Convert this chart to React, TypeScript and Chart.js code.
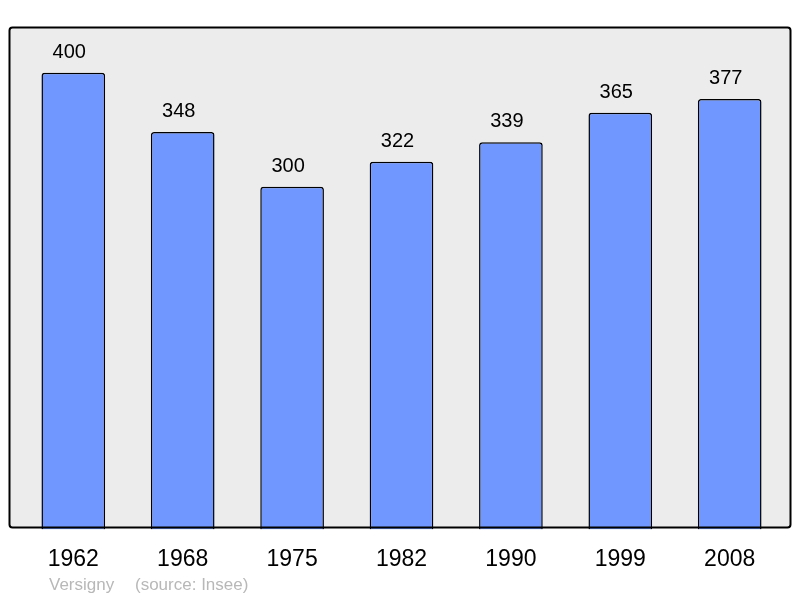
import React, { useEffect, useRef } from "react";
import { Chart, registerables } from "chart.js";

Chart.register(...registerables);

const years = ["1962", "1968", "1975", "1982", "1990", "1999", "2008"];
const population = [400, 348, 300, 322, 339, 365, 377];
const townName = "Versigny";
const sourceText = "(source: Insee)";

const FONT = "'Liberation Sans', Arial, sans-serif";

const boxPlugin = {
  id: "boxPlugin",
  beforeDatasetsDraw(chart: any) {
    const ctx = chart.ctx;
    ctx.save();
    ctx.beginPath();
    (ctx as any).roundRect(9.5, 27.5, 781, 500, 3);
    ctx.fillStyle = "#ececec";
    ctx.fill();
    ctx.restore();
  },
  afterDatasetsDraw(chart: any) {
    const ctx = chart.ctx;
    const meta = chart.getDatasetMeta(0);
    ctx.save();
    ctx.font = `20px ${FONT}`;
    ctx.fillStyle = "#000";
    ctx.textAlign = "center";
    ctx.textBaseline = "alphabetic";
    meta.data.forEach((bar: any, i: number) => {
      ctx.fillText(String(population[i]), bar.x - 4, bar.y - 15);
    });
    ctx.beginPath();
    (ctx as any).roundRect(9.5, 27.5, 781, 500, 3);
    ctx.lineWidth = 2;
    ctx.strokeStyle = "#000";
    ctx.stroke();
    ctx.font = `17px ${FONT}`;
    ctx.fillStyle = "#b8b8b8";
    ctx.textAlign = "left";
    ctx.fillText(townName, 49, 590);
    ctx.fillText(sourceText, 135, 590);
    ctx.restore();
  },
};

export default function App() {
  const ref = useRef<HTMLCanvasElement>(null);
  useEffect(() => {
    if (!ref.current) return;
    const chart = new Chart(ref.current, {
      type: "bar",
      data: {
        labels: years,
        datasets: [
          {
            data: population,
            backgroundColor: "#7096ff",
            borderColor: "#000",
            borderWidth: 1.5,
            borderRadius: 3,
            borderSkipped: "bottom",
            categoryPercentage: 1,
            barPercentage: 0.582,
          },
        ],
      },
      options: {
        animation: false,
        responsive: false,
        maintainAspectRatio: false,
        layout: { padding: { left: 18.6, right: 15.6, top: 27, bottom: 17 } },
        plugins: { legend: { display: false }, tooltip: { enabled: false }, title: { display: false } },
        scales: {
          y: { display: false, min: 0, max: 440 },
          x: {
            grid: { display: false },
            border: { display: false },
            ticks: { color: "#000", font: { size: 23, family: FONT }, padding: 8, maxRotation: 0 },
          },
        },
      },
      plugins: [boxPlugin],
    });
    return () => chart.destroy();
  }, []);
  return (
    <div style={{ position: "absolute", left: 0, top: 0, width: 800, height: 598, background: "#fff" }}>
      <canvas ref={ref} width={800} height={598} style={{ width: 800, height: 598 }} />
    </div>
  );
}
